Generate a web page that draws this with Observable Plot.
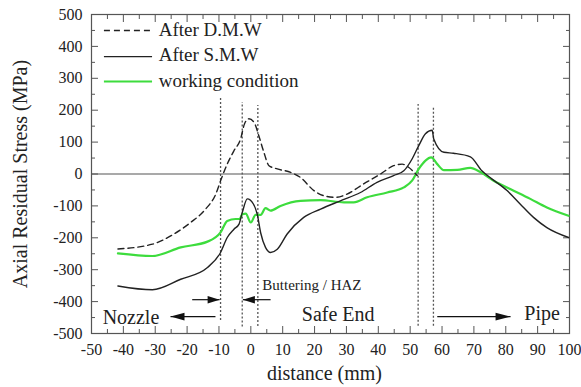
<!DOCTYPE html>
<html>
<head>
<meta charset="utf-8">
<script src="https://cdn.jsdelivr.net/npm/d3@7"></script>
<script src="https://cdn.jsdelivr.net/npm/@observablehq/plot@0.6"></script>
<style>
  html, body { margin: 0; padding: 0; background: #fff; }
  #chart svg { display: block; }
</style>
</head>
<body>
<div id="chart"></div>
<script>
// ---- data ----
const dmwX = [-41.7,-30.9,-24.1,-18.9,-14.2,-11.0,-9.3,-7.4,-5.3,-3.2,-2.0,-0.6,1.0,2.5,4.1,5.7,8.3,12.5,15.6,19.8,22.9,26.6,30.2,35.4,40.7,44.8,47.5,49.5,52.2];
const dmwY = [-235,-220,-188,-152,-110,-63,-16,31,73,110,157,173,162,120,68,26,16,5,-11,-52,-68,-73,-63,-31,0,26,31,21,-5];

const smwX = [-41.7,-30.9,-22.0,-13.6,-9.5,-7.4,-5.3,-3.7,-2.7,-1.1,0.8,2.0,3.1,4.6,6.2,8.3,11.4,16.6,21.9,28.1,34.4,39.6,44.8,48.0,50.6,52.7,54.8,56.9,57.4,60.6,63.6,68.9,72.5,75.7,80.4,84.5,88.7,92.9,99.7];
const smwY = [-351,-363,-330,-293,-246,-199,-173,-157,-121,-78,-94,-126,-185,-230,-246,-236,-188,-136,-110,-84,-58,-26,-5,10,47,89,126,137,110,68,65,54,10,-16,-52,-94,-136,-168,-199];

const wcX = [-41.7,-30.9,-22.0,-13.6,-9.5,-7.4,-4.8,-3.5,-2.7,-1.6,0,1.5,3.1,4.6,6.2,9.3,15.6,21.9,29.2,32.3,36.5,42.8,48.0,50.6,52.7,54.8,56.6,58.5,60.6,64.8,68.9,72.0,76.2,81.4,87.7,92.9,99.7];
const wcY = [-249,-257,-230,-212,-183,-147,-141,-141,-126,-124,-152,-128,-128,-107,-115,-100,-84,-82,-89,-89,-73,-58,-42,-21,16,42,52,31,12,13,19,6,-21,-47,-78,-105,-131];

const seriesNames = ["After D.M.W", "After S.M.W", "working condition"];

const xMajor = [-50,-40,-30,-20,-10,0,10,20,30,40,50,60,70,80,90,100];
const xMinor = [-45,-35,-25,-15,-5,5,15,25,35,45,55,65,75,85,95];
const yMajor = [-500,-400,-300,-200,-100,0,100,200,300,400,500];
const yMinor = [-450,-350,-250,-150,-50,50,150,250,350,450];

// region boundaries (dotted lines)
const boundX  = [-9.5, -2.7, 2.2, 52.5, 57.3];
const boundTop = [237, 224, 215, 218, 212];
const boundBot = [-459, -480, -478, -477, -477];

// region labels
const regionText = ["Nozzle", "Safe End", "Pipe"];
const regionX = [-46.5, 27.4, 91.4];
const regionY = [-451, -441, -439];
const regionAnchor = ["start", "middle", "middle"];
const hazText = "Buttering / HAZ";
const hazX = 3.6, hazY = -348;

// arrows (x1 -> x2 tip)
const arrowX1 = [-11.1, -18.4, 6.2, 58.5];
const arrowX2 = [-25.2, -9.8, -2.5, 81.5];
const arrowY  = [-447, -394, -394, -447];
const arrowHead = [14, 12, 12, 15];

// legend placement (data units)
const legX1 = -46.1, legX2 = -31.0, legTextX = -28.9;
const legLineY = [450, 368, 290];
const legTextY = [453, 372, 291];

// ---- build tables ----
const dmw = dmwX.map((x, i) => ({x, y: dmwY[i]}));
const smw = smwX.map((x, i) => ({x, y: smwY[i]}));
const wc = wcX.map((x, i) => ({x, y: wcY[i]}));
const bounds = boundX.map((x, i) => ({x, y1: boundBot[i], y2: boundTop[i]}));
const regions = regionText.map((t, i) => ({t, x: regionX[i], y: regionY[i], a: regionAnchor[i]}));
const arrows = arrowX1.map((x1, i) => ({x1, x2: arrowX2[i], y: arrowY[i], h: arrowHead[i]}));
const legend = seriesNames.map((name, i) => ({name, ly: legLineY[i], ty: legTextY[i], i}));

const styles = [
  {stroke: "#222", strokeWidth: 1.4, strokeDasharray: "6,4"},
  {stroke: "#222", strokeWidth: 1.4},
  {stroke: "#3ddc3d", strokeWidth: 2.2}
];

function headSymbol(len) {
  return {
    draw(context) {
      context.moveTo(0, 0);
      context.lineTo(-len, -3.8);
      context.lineTo(-len, 3.8);
      context.closePath();
    }
  };
}

const FONT = "'Liberation Serif', 'Times New Roman', serif";
const TXT = "#222";

const marks = [
  Plot.frame({stroke: "#555", strokeWidth: 1.2}),
  Plot.ruleY([0], {stroke: "#555", strokeWidth: 1.2}),
  // ticks (inward)
  Plot.axisX({ticks: xMajor, tickSize: -7, tickFormat: () => "", label: null, stroke: "#555"}),
  Plot.axisX({ticks: xMinor, tickSize: -4, tickFormat: () => "", label: null, stroke: "#555"}),
  Plot.axisX({anchor: "top", ticks: xMajor, tickSize: -7, tickFormat: () => "", label: null, stroke: "#555"}),
  Plot.axisX({anchor: "top", ticks: xMinor, tickSize: -4, tickFormat: () => "", label: null, stroke: "#555"}),
  Plot.axisY({ticks: yMajor, tickSize: -7, tickFormat: () => "", label: null, stroke: "#555"}),
  Plot.axisY({ticks: yMinor, tickSize: -4, tickFormat: () => "", label: null, stroke: "#555"}),
  Plot.axisY({anchor: "right", ticks: yMajor, tickSize: -7, tickFormat: () => "", label: null, stroke: "#555"}),
  Plot.axisY({anchor: "right", ticks: yMinor, tickSize: -4, tickFormat: () => "", label: null, stroke: "#555"}),
  // tick labels
  Plot.axisX({ticks: xMajor, tickSize: 0, tickPadding: 10, tickFormat: d => String(d), label: null, fontSize: 16, fill: TXT}),
  Plot.axisY({ticks: yMajor, tickSize: 0, tickPadding: 9, tickFormat: d => String(d), label: null, fontSize: 16, fill: TXT}),
  // axis titles
  Plot.text(["Axial Residual Stress (MPa)"], {text: d => d, frameAnchor: "left", dx: -71, rotate: -90, textAnchor: "middle", lineAnchor: "middle", fontSize: 20, fill: TXT}),
  Plot.text(["distance (mm)"], {text: d => d, frameAnchor: "bottom", dy: 40, dx: -6, textAnchor: "middle", lineAnchor: "middle", fontSize: 20, fill: TXT}),
  // region boundaries
  Plot.ruleX(bounds, {x: "x", y1: "y1", y2: "y2", stroke: "#555", strokeWidth: 1.3, strokeDasharray: "2,2"}),
  // curves
  Plot.line(wc, {x: "x", y: "y", curve: "monotone-x", ...styles[2]}),
  Plot.line(dmw, {x: "x", y: "y", curve: "monotone-x", ...styles[0]}),
  Plot.line(smw, {x: "x", y: "y", curve: "monotone-x", ...styles[1]}),
  // arrows
  Plot.link(arrows, {x1: "x1", x2: "x2", y1: "y", y2: "y", stroke: "#111", strokeWidth: 1.2}),
  ...arrows.map(a => Plot.dot([a], {x: "x2", y: "y", symbol: headSymbol(a.h), r: 4, fill: "#111", stroke: null, rotate: a.x2 > a.x1 ? 0 : 180})),
  // region labels
  ...regions.map(r => Plot.text([r], {x: "x", y: "y", text: "t", textAnchor: r.a, fontSize: 20, fill: TXT})),
  Plot.text([hazText], {x: () => hazX, y: () => hazY, text: d => d, textAnchor: "start", fontSize: 15, fill: TXT}),
  // legend
  ...legend.map(l => Plot.link([l], {x1: () => legX1, x2: () => legX2, y1: "ly", y2: "ly", ...styles[l.i]})),
  Plot.text(legend, {x: () => legTextX, y: "ty", text: "name", textAnchor: "start", fontSize: 19, fill: TXT})
];

const chart = Plot.plot({
  width: 581,
  height: 387,
  marginTop: 14,
  marginRight: 12,
  marginBottom: 54,
  marginLeft: 91,
  style: {fontFamily: FONT, background: "#fff", color: TXT},
  x: {domain: [-50, 100]},
  y: {domain: [-500, 500]},
  marks
});
document.getElementById("chart").appendChild(chart);
</script>
</body>
</html>
